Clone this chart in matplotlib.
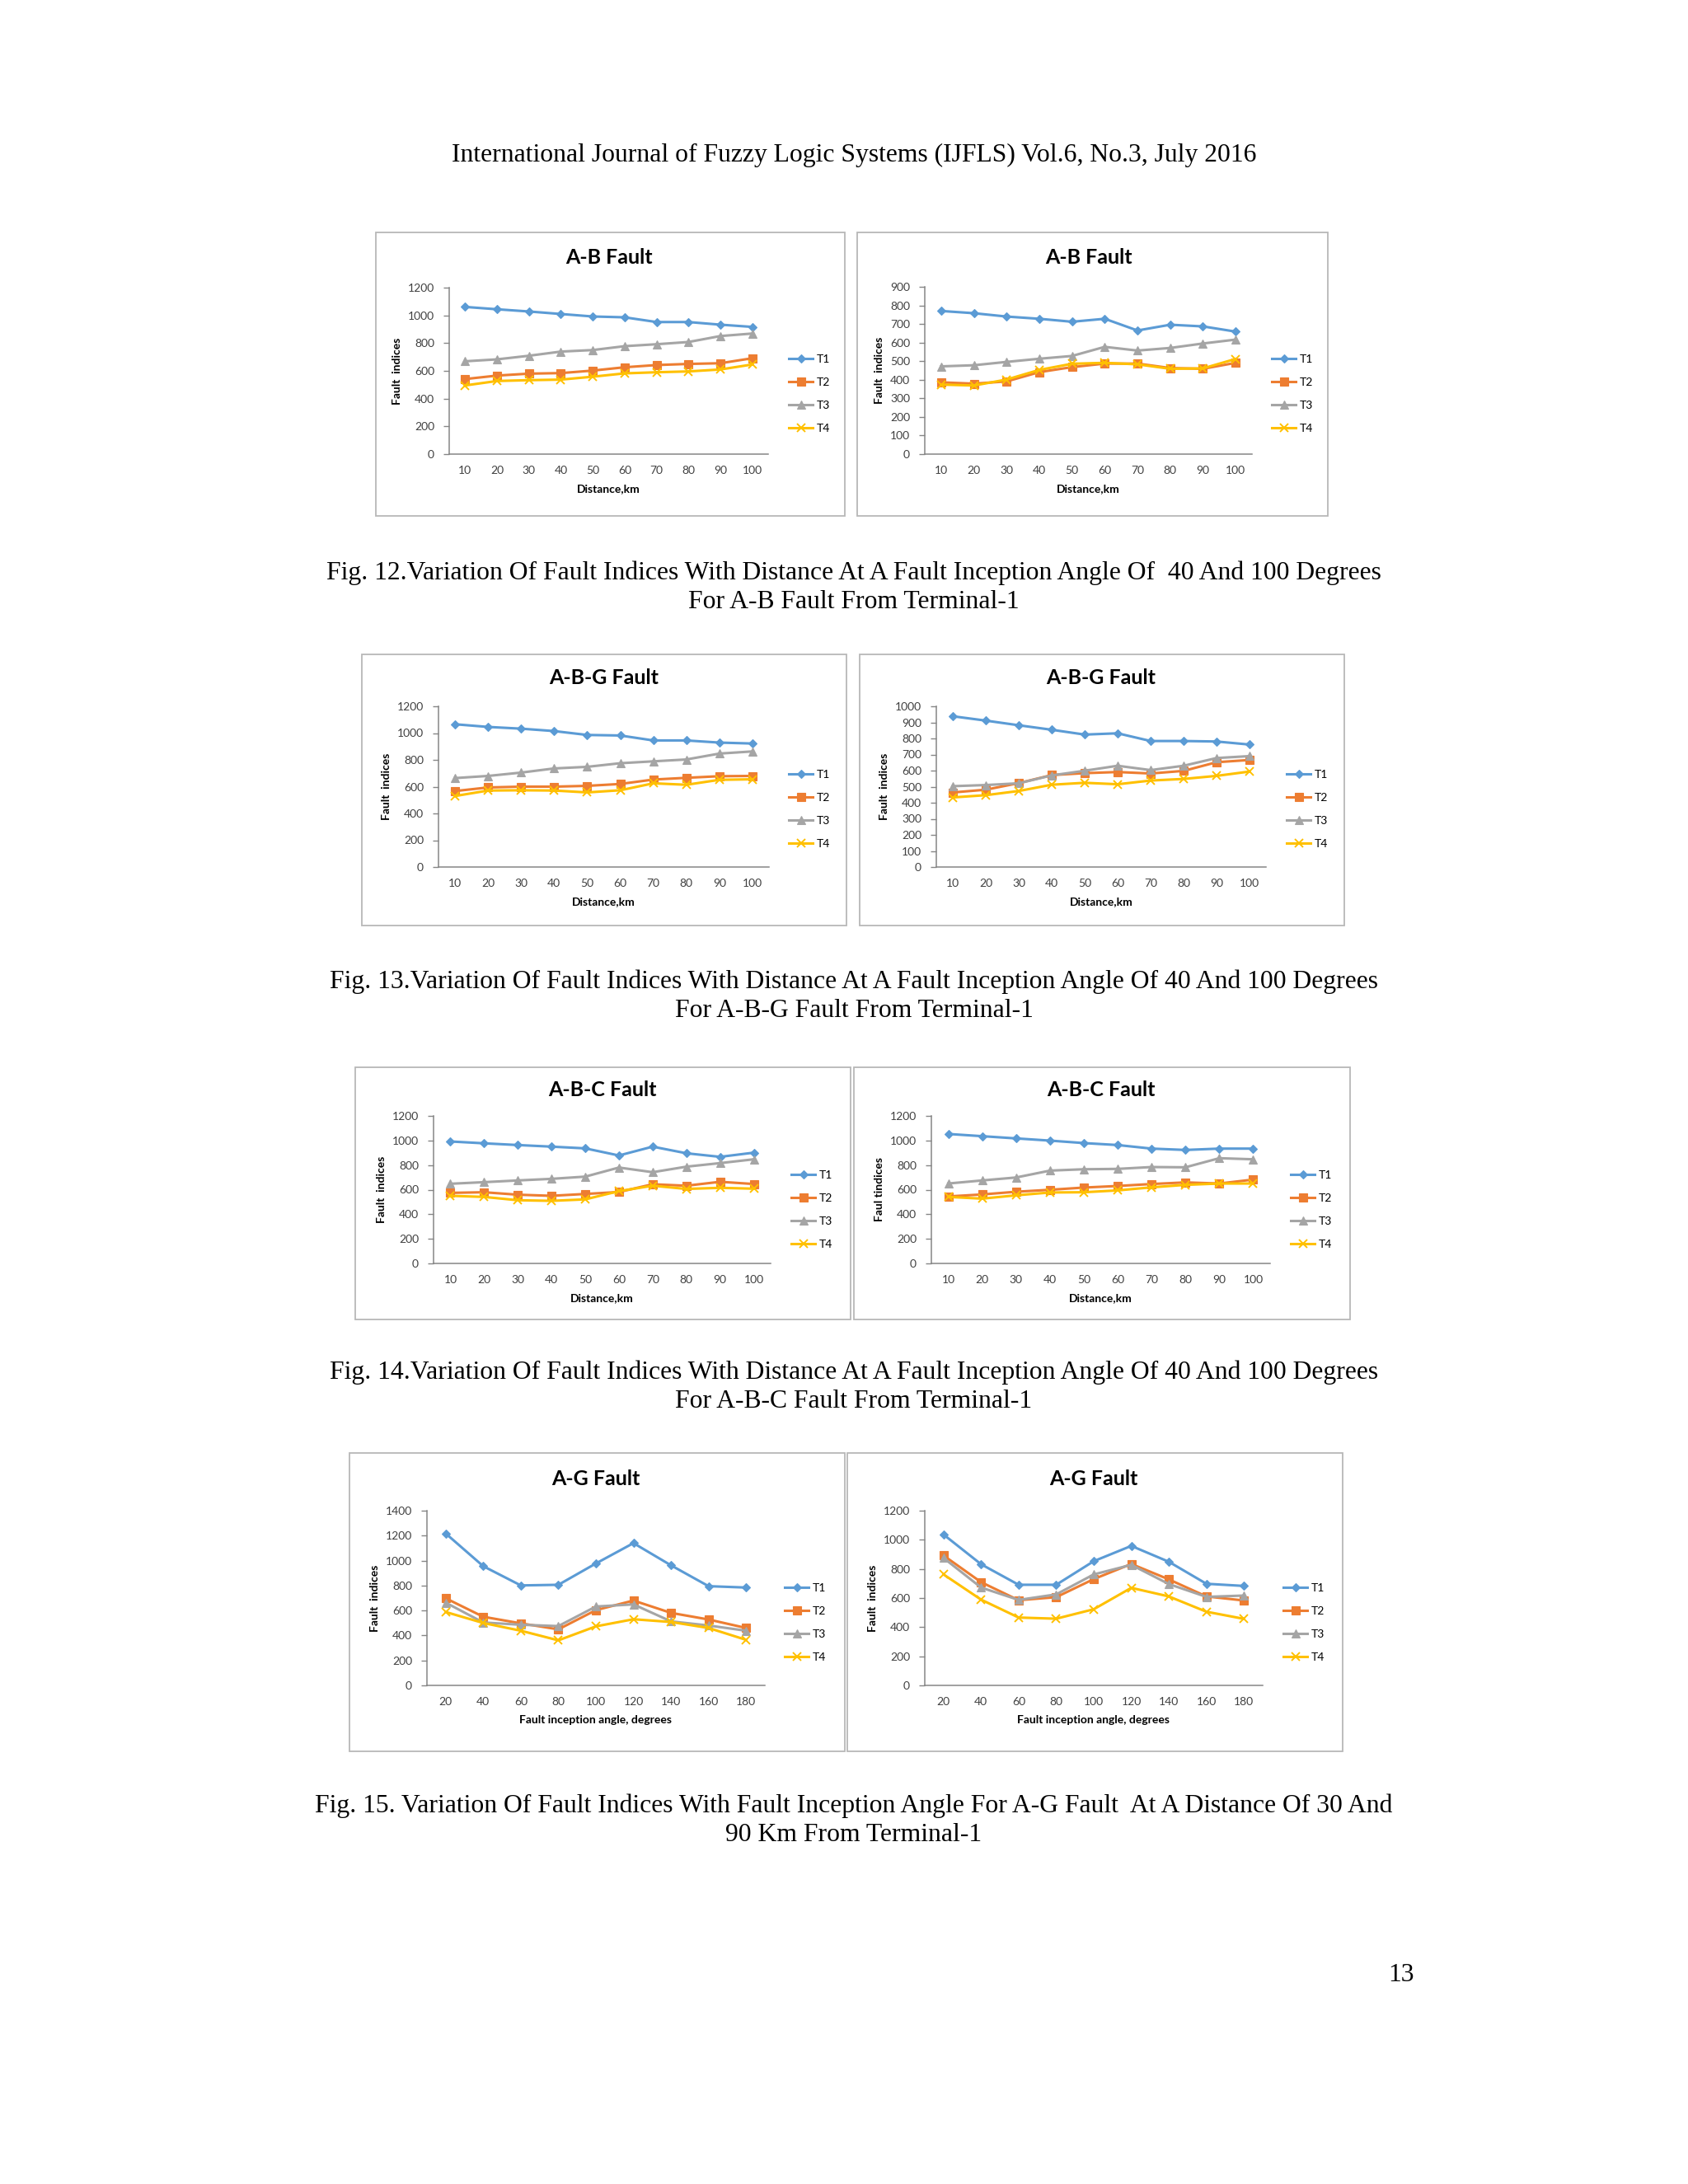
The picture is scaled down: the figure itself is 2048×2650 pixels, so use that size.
import matplotlib
matplotlib.use("Agg")
import matplotlib.pyplot as plt
from matplotlib.patches import Rectangle

W, H = 2048, 2650

# x values
distance_km = [10, 20, 30, 40, 50, 60, 70, 80, 90, 100]
angle_deg = [20, 40, 60, 80, 100, 120, 140, 160, 180]
terminals = ["T1", "T2", "T3", "T4"]

# Fig. 12 - A-B fault (40 and 100 degrees)
ab_40_t1 = [1061, 1044, 1028, 1010, 992, 986, 952, 952, 933, 917]
ab_40_t2 = [541, 566, 580, 584, 602, 626, 642, 650, 655, 691]
ab_40_t3 = [669, 683, 709, 739, 750, 778, 792, 808, 851, 869]
ab_40_t4 = [495, 527, 533, 537, 558, 582, 590, 596, 610, 646]

ab_100_t1 = [770, 758, 740, 728, 712, 728, 665, 696, 687, 659]
ab_100_t2 = [386, 379, 391, 441, 468, 487, 487, 463, 459, 491]
ab_100_t3 = [472, 478, 496, 513, 528, 577, 557, 571, 595, 616]
ab_100_t4 = [374, 369, 401, 453, 486, 491, 483, 459, 461, 512]

# Fig. 13 - A-B-G fault
abg_40_t1 = [1066, 1046, 1033, 1015, 986, 982, 945, 945, 929, 922]
abg_40_t2 = [567, 594, 600, 600, 606, 620, 653, 666, 678, 680]
abg_40_t3 = [664, 680, 705, 736, 748, 775, 789, 803, 847, 863]
abg_40_t4 = [530, 571, 573, 571, 557, 573, 625, 614, 651, 655]

abg_100_t1 = [938, 911, 882, 854, 824, 832, 784, 784, 781, 762]
abg_100_t2 = [464, 481, 522, 572, 584, 591, 582, 598, 652, 666]
abg_100_t3 = [503, 510, 521, 570, 599, 630, 603, 630, 678, 690]
abg_100_t4 = [433, 447, 473, 512, 524, 515, 538, 548, 567, 594]

# Fig. 14 - A-B-C fault
abc_40_t1 = [992, 977, 963, 950, 936, 878, 950, 896, 867, 901]
abc_40_t2 = [574, 579, 559, 550, 565, 581, 644, 632, 664, 646]
abc_40_t3 = [648, 661, 675, 688, 706, 780, 742, 787, 816, 847]
abc_40_t4 = [550, 541, 514, 509, 521, 588, 632, 606, 615, 608]

abc_100_t1 = [1053, 1035, 1017, 999, 979, 963, 934, 923, 934, 934]
abc_100_t2 = [545, 561, 583, 599, 617, 630, 646, 659, 650, 682]
abc_100_t3 = [650, 675, 699, 755, 766, 769, 784, 782, 856, 847]
abc_100_t4 = [541, 527, 554, 577, 579, 594, 619, 639, 650, 650]

# Fig. 15 - A-G fault vs inception angle (30 and 90 km)
ag_30_t1 = [1217, 955, 801, 806, 977, 1140, 962, 795, 784]
ag_30_t2 = [698, 550, 497, 449, 603, 680, 581, 528, 460]
ag_30_t3 = [663, 504, 486, 475, 632, 649, 513, 480, 438]
ag_30_t4 = [588, 500, 438, 361, 473, 530, 508, 460, 365]

ag_90_t1 = [1036, 832, 691, 691, 853, 958, 849, 698, 683]
ag_90_t2 = [892, 709, 585, 606, 730, 834, 728, 611, 583]
ag_90_t3 = [875, 672, 587, 625, 762, 828, 696, 608, 617]
ag_90_t4 = [762, 589, 466, 458, 523, 670, 611, 506, 457]

colors = ["#5B9BD5", "#ED7D31", "#A5A5A5", "#FFC000"]
markers = [("D", 5), ("s", 6.5), ("^", 6.5), ("x", 7)]

plt.rcParams["font.family"] = ["Lato", "DejaVu Sans"]

fig = plt.figure(figsize=(W / 100, H / 100), dpi=100)
fig.patch.set_facecolor("white")


def add_axes_px(l, t, r, b):
    return fig.add_axes([l / W, 1 - b / H, (r - l) / W, (b - t) / H])


def draw_panel(title, x, series, ymax, ystep, xlabel, ylabel, box, axrect, title_y, leg_x, leg_y):
    # light grey frame around each chart
    bx0, by0, bx1, by1 = box
    fig.patches.append(Rectangle((bx0 / W, 1 - by1 / H), (bx1 - bx0) / W, (by1 - by0) / H,
                                 transform=fig.transFigure, facecolor="none",
                                 edgecolor="#b8b8b8", linewidth=1.3, zorder=-1))
    ax = add_axes_px(*axrect)
    ax.set_zorder(2)
    ax.patch.set_alpha(0)
    handles = []
    for i, ys in enumerate(series):
        m, ms = markers[i]
        h, = ax.plot(x, ys, color=colors[i], lw=2.2, marker=m, markersize=ms,
                     markeredgewidth=1.4 if m == "x" else 0.8, label=terminals[i])
        handles.append(h)
    step = x[1] - x[0]
    ax.set_xlim(x[0] - step / 2, x[-1] + step / 2)
    ax.set_ylim(0, ymax)
    ax.set_xticks(x)
    ax.set_yticks(range(0, ymax + 1, ystep))
    ax.tick_params(axis="x", length=0, pad=10, labelsize=10, colors="#404040")
    ax.tick_params(axis="y", length=5, width=1, pad=8, labelsize=10, colors="#868686",
                   labelcolor="#404040", direction="out")
    for s in ["top", "right"]:
        ax.spines[s].set_visible(False)
    for s in ["left", "bottom"]:
        ax.spines[s].set_color("#868686")
        ax.spines[s].set_linewidth(1.1)
    ax.set_xlabel(xlabel, fontsize=10, fontweight="bold", labelpad=7)
    ax.set_ylabel(ylabel, fontsize=10, fontweight="bold", labelpad=5)
    fig.text(((axrect[0] + axrect[2]) / 2) / W, 1 - title_y / H, title,
             ha="center", va="center", fontsize=18, fontweight="bold")
    ax.legend(handles=handles, loc="center left",
              bbox_to_anchor=(leg_x / W, 1 - leg_y / H), bbox_transform=fig.transFigure,
              frameon=False, borderpad=0, borderaxespad=0, handlelength=2.1,
              handletextpad=0.3, labelspacing=1.15, fontsize=10)
    return ax


dist_label = "Distance,km"
angle_label = "Fault inception angle, degrees"

draw_panel("A-B Fault", distance_km, [ab_40_t1, ab_40_t2, ab_40_t3, ab_40_t4], 1200, 200,
           dist_label, "Fault  indices", (456, 282, 1025, 626), (545, 349, 932, 551), 312, 957, 478)
draw_panel("A-B Fault", distance_km, [ab_100_t1, ab_100_t2, ab_100_t3, ab_100_t4], 900, 100,
           dist_label, "Fault  indices", (1040, 282, 1611, 626), (1122, 348, 1519, 551), 312, 1543, 478)
draw_panel("A-B-G Fault", distance_km, [abg_40_t1, abg_40_t2, abg_40_t3, abg_40_t4], 1200, 200,
           dist_label, "Fault  indices", (439, 794, 1027, 1123), (532, 857, 933, 1052), 822, 957, 982)
draw_panel("A-B-G Fault", distance_km, [abg_100_t1, abg_100_t2, abg_100_t3, abg_100_t4], 1000, 100,
           dist_label, "Fault  indices", (1043, 794, 1631, 1123), (1136, 857, 1536, 1052), 822, 1561, 982)
draw_panel("A-B-C Fault", distance_km, [abc_40_t1, abc_40_t2, abc_40_t3, abc_40_t4], 1200, 200,
           dist_label, "Fault  indices", (431, 1295, 1032, 1601), (526, 1354, 935, 1533), 1322, 960, 1468)
draw_panel("A-B-C Fault", distance_km, [abc_100_t1, abc_100_t2, abc_100_t3, abc_100_t4], 1200, 200,
           dist_label, "Faul tindices", (1036, 1295, 1638, 1601), (1130, 1354, 1541, 1533), 1322, 1566, 1468)
draw_panel("A-G Fault", angle_deg, [ag_30_t1, ag_30_t2, ag_30_t3, ag_30_t4], 1400, 200,
           angle_label, "Fault  indices", (424, 1763, 1025, 2125), (518, 1833, 928, 2045), 1795, 952, 1969)
draw_panel("A-G Fault", angle_deg, [ag_90_t1, ag_90_t2, ag_90_t3, ag_90_t4], 1200, 200,
           angle_label, "Fault  indices", (1028, 1763, 1629, 2125), (1122, 1833, 1532, 2045), 1795, 1557, 1969)

# page text (journal header, figure captions, page number)
serif = ["Liberation Serif", "DejaVu Serif"]
page_texts = [
    (188, "International Journal of Fuzzy Logic Systems (IJFLS) Vol.6, No.3, July 2016"),
    (695, "Fig. 12.Variation Of Fault Indices With Distance At A Fault Inception Angle Of  40 And 100 Degrees"),
    (731, "For A-B Fault From Terminal-1"),
    (1191, "Fig. 13.Variation Of Fault Indices With Distance At A Fault Inception Angle Of 40 And 100 Degrees"),
    (1227, "For A-B-G Fault From Terminal-1"),
    (1665, "Fig. 14.Variation Of Fault Indices With Distance At A Fault Inception Angle Of 40 And 100 Degrees"),
    (1700, "For A-B-C Fault From Terminal-1"),
    (2191, "Fig. 15. Variation Of Fault Indices With Fault Inception Angle For A-G Fault  At A Distance Of 30 And"),
    (2227, "90 Km From Terminal-1"),
]
for y, s in page_texts:
    fig.text(1036 / W, 1 - y / H, s, ha="center", va="center", fontsize=22.8, family=serif)
fig.text(1700 / W, 1 - 2396 / H, "13", ha="center", va="center", fontsize=22.8, family=serif)

fig.savefig("out.png", dpi=100, facecolor="white")
